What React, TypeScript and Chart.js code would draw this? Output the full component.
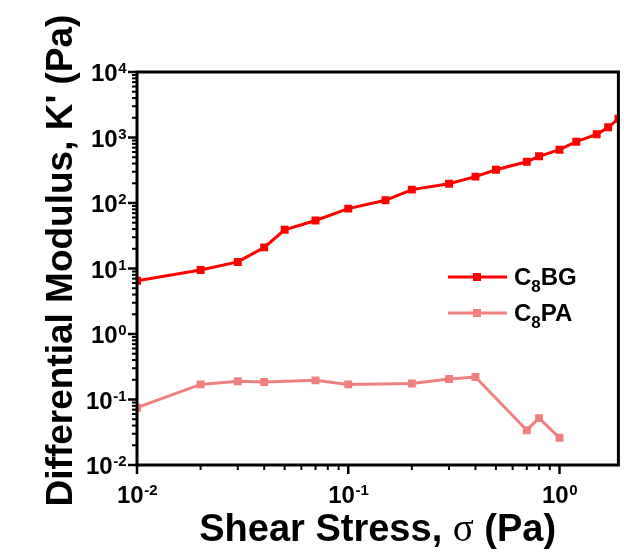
import React, { useEffect, useRef } from "react";
import { Chart, registerables } from "chart.js";

Chart.register(...registerables);

// ---- data ----
const bgStress = [0.01, 0.02, 0.03, 0.04, 0.05, 0.07, 0.1, 0.15, 0.2, 0.3, 0.4, 0.5, 0.7, 0.8, 1.0, 1.2, 1.5, 1.7, 1.9];
const bgModulus = [6.5, 9.5, 12.6, 21, 39, 54, 82, 110, 160, 197, 253, 322, 427, 516, 651, 863, 1119, 1432, 1935];
const paStress = [0.01, 0.02, 0.03, 0.04, 0.07, 0.1, 0.2, 0.3, 0.4, 0.7, 0.8, 1.0];
const paModulus = [0.075, 0.17, 0.19, 0.185, 0.196, 0.17, 0.175, 0.205, 0.22, 0.034, 0.052, 0.026];

const seriesNames = ["C8BG", "C8PA"];
const seriesParts = [["C", "8", "BG"], ["C", "8", "PA"]];
const seriesColors = ["#ff0000", "#f08080"];

const xMin = 0.01;
const xMax = 1.9;
const yMin = 0.01;
const yMax = 10000;
const xTickExps = ["-2", "-1", "0"];
const yTickExps = ["-2", "-1", "0", "1", "2", "3", "4"];
const xTitleParts = ["Shear Stress, ", "\u03c3", " (Pa)"];
const yTitle = "Differential Modulus, K' (Pa)";

const SANS = "'Liberation Sans', Arial, sans-serif";
const SERIF = "'Liberation Serif', 'Times New Roman', serif";

const toPoints = (xs: number[], ys: number[]) => xs.map((x, i) => ({ x, y: ys[i] }));

const decorPlugin = {
  id: "decor",
  beforeDraw(chart: any) {
    const { ctx, width, height } = chart;
    ctx.save();
    ctx.fillStyle = "#ffffff";
    ctx.fillRect(0, 0, width, height);
    ctx.restore();
  },
  afterDraw(chart: any) {
    const { ctx, chartArea: a, scales } = chart;
    const xs = scales.x;
    const ys = scales.y;
    ctx.save();
    ctx.strokeStyle = "#000";
    ctx.lineCap = "butt";

    // x ticks (outward)
    for (let e = -2; e <= 0; e++) {
      for (let m = 1; m <= 9; m++) {
        const v = m * Math.pow(10, e);
        if (v > xMax * 1.0001 || v < xMin * 0.9999) continue;
        const px = xs.getPixelForValue(v);
        const major = m === 1;
        ctx.lineWidth = major ? 2.5 : 2;
        ctx.beginPath();
        ctx.moveTo(px, a.bottom);
        ctx.lineTo(px, a.bottom + (major ? 9 : 5));
        ctx.stroke();
      }
    }
    // y ticks (outward)
    for (let e = -2; e <= 4; e++) {
      for (let m = 1; m <= 9; m++) {
        const v = m * Math.pow(10, e);
        if (v > yMax * 1.0001 || v < yMin * 0.9999) continue;
        const py = ys.getPixelForValue(v);
        const major = m === 1;
        ctx.lineWidth = major ? 2.5 : 2;
        ctx.beginPath();
        ctx.moveTo(a.left, py);
        ctx.lineTo(a.left - (major ? 9 : 5), py);
        ctx.stroke();
      }
    }

    // frame
    ctx.lineWidth = 3;
    ctx.strokeRect(a.left, a.top, a.right - a.left, a.bottom - a.top);

    // tick labels
    ctx.fillStyle = "#000";
    ctx.textBaseline = "alphabetic";
    ctx.textAlign = "left";
    const baseFont = `bold 24px ${SANS}`;
    const expFont = `bold 15px ${SANS}`;
    const measure = (exp: string) => {
      ctx.font = baseFont;
      const w1 = ctx.measureText("10").width;
      ctx.font = expFont;
      const w2 = ctx.measureText(exp).width;
      return [w1, w2];
    };
    const drawPow = (exp: string, x0: number, baseY: number) => {
      const [w1] = measure(exp);
      ctx.font = baseFont;
      ctx.fillText("10", x0, baseY);
      ctx.font = expFont;
      ctx.fillText(exp, x0 + w1 + 0.5, baseY - 8);
    };
    yTickExps.forEach((exp) => {
      const py = ys.getPixelForValue(Math.pow(10, Number(exp)));
      const [w1, w2] = measure(exp);
      drawPow(exp, a.left - 11 - (w1 + w2), py + 9);
    });
    xTickExps.forEach((exp) => {
      const px = xs.getPixelForValue(Math.pow(10, Number(exp)));
      const [w1, w2] = measure(exp);
      drawPow(exp, px - (w1 + w2) / 2, a.bottom + 38);
    });

    // axis titles
    ctx.save();
    ctx.translate(72, (a.top + a.bottom) / 2 - 8);
    ctx.rotate(-Math.PI / 2);
    ctx.textAlign = "center";
    ctx.font = `bold 37px ${SANS}`;
    ctx.fillText(yTitle, 0, 0);
    ctx.restore();

    const fonts = [`bold 38px ${SANS}`, `39px ${SERIF}`, `bold 38px ${SANS}`];
    const widths = xTitleParts.map((t, i) => {
      ctx.font = fonts[i];
      return ctx.measureText(t).width;
    });
    const total = widths.reduce((s, w) => s + w, 0);
    let cx = (a.left + a.right) / 2 - total / 2;
    xTitleParts.forEach((t, i) => {
      ctx.font = fonts[i];
      ctx.fillText(t, cx, 541);
      cx += widths[i];
    });

    // legend
    const rowsY = [277, 313];
    seriesParts.forEach((parts, i) => {
      const ly = rowsY[i];
      const col = seriesColors[i];
      ctx.strokeStyle = col;
      ctx.lineWidth = 3;
      ctx.beginPath();
      ctx.moveTo(448, ly);
      ctx.lineTo(507, ly);
      ctx.stroke();
      ctx.fillStyle = col;
      ctx.fillRect(477 - 4, ly - 4, 8, 8);
      ctx.fillStyle = "#000";
      let tx = 514;
      ctx.font = `bold 24px ${SANS}`;
      ctx.fillText(parts[0], tx, ly + 8);
      tx += ctx.measureText(parts[0]).width;
      ctx.font = `bold 17px ${SANS}`;
      ctx.fillText(parts[1], tx, ly + 15);
      tx += ctx.measureText(parts[1]).width;
      ctx.font = `bold 24px ${SANS}`;
      ctx.fillText(parts[2], tx, ly + 8);
    });
    ctx.restore();
  },
};

export default function App() {
  const ref = useRef<HTMLCanvasElement>(null);
  useEffect(() => {
    if (!ref.current) return;
    const chart = new Chart(ref.current, {
      type: "line",
      data: {
        datasets: [
          {
            label: seriesNames[0],
            data: toPoints(bgStress, bgModulus),
            borderColor: seriesColors[0],
            backgroundColor: seriesColors[0],
            borderWidth: 3,
            pointStyle: "rect",
            pointRadius: 5.6,
            pointBorderWidth: 0,
            tension: 0,
          },
          {
            label: seriesNames[1],
            data: toPoints(paStress, paModulus),
            borderColor: seriesColors[1],
            backgroundColor: seriesColors[1],
            borderWidth: 3,
            pointStyle: "rect",
            pointRadius: 5.6,
            pointBorderWidth: 0,
            tension: 0,
          },
        ],
      },
      options: {
        responsive: false,
        animation: false,
        devicePixelRatio: 1,
        layout: { padding: { left: 137, top: 72, right: 2, bottom: 89 } },
        plugins: { legend: { display: false }, tooltip: { enabled: false } },
        scales: {
          x: { type: "logarithmic", min: xMin, max: xMax, display: false },
          y: { type: "logarithmic", min: yMin, max: yMax, display: false },
        },
      },
      plugins: [decorPlugin],
    });
    return () => chart.destroy();
  }, []);
  return (
    <div style={{ position: "fixed", left: 0, top: 0, width: 624, height: 554, background: "#fff" }}>
      <canvas ref={ref} width={624} height={554} style={{ width: 624, height: 554, display: "block" }} />
    </div>
  );
}
